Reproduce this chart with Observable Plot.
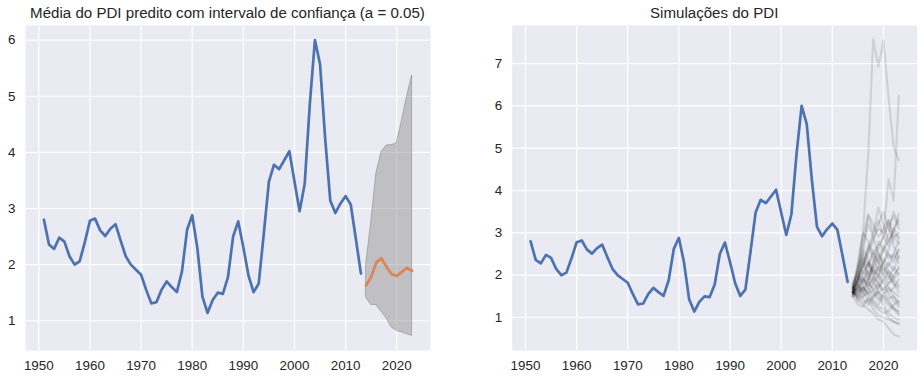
<!DOCTYPE html>
<html>
<head>
<meta charset="utf-8">
<script src="https://cdn.jsdelivr.net/npm/d3@7"></script>
<script src="https://cdn.jsdelivr.net/npm/@observablehq/plot@0.6"></script>
<style>
  body { margin: 0; background: #ffffff; font-family: "Liberation Sans", Arial, sans-serif; }
  .panel { position: absolute; top: 0; }
  .title { height: 25px; line-height: 25px; font-size: 15.1px; color: #262626; text-align: center; white-space: nowrap; }
  svg { display: block; }
</style>
</head>
<body>
<div id="left" class="panel" style="left:0px;width:460px;"></div>
<div id="right" class="panel" style="left:460px;width:464px;"></div>
<script>
// ---- data ----
const years = d3.range(1951, 2014);
const pdi = [2.80, 2.36, 2.28, 2.48, 2.41, 2.15, 2.00, 2.06, 2.40, 2.78,
             2.82, 2.61, 2.51, 2.64, 2.72, 2.43, 2.15, 2.00, 1.91, 1.82,
             1.55, 1.31, 1.33, 1.55, 1.70, 1.60, 1.51, 1.88, 2.62, 2.88,
             2.30, 1.43, 1.14, 1.37, 1.50, 1.48, 1.78, 2.50, 2.77, 2.31,
             1.81, 1.51, 1.66, 2.55, 3.48, 3.78, 3.70, 3.86, 4.02, 3.48,
             2.95, 3.44, 4.86, 6.00, 5.57, 4.25, 3.14, 2.92, 3.09, 3.22,
             3.07, 2.46, 1.84];
const fyears = d3.range(2014, 2024);
const forecast = [1.63, 1.78, 2.04, 2.11, 1.96, 1.83, 1.80, 1.87, 1.94, 1.89];
const upper = [1.99, 2.75, 3.62, 4.00, 4.12, 4.13, 4.16, 4.56, 4.99, 5.37];
const lower = [1.41, 1.28, 1.28, 1.16, 1.04, 0.88, 0.82, 0.79, 0.76, 0.73];
const sims = [
  [1.60, 2.10, 3.00, 4.80, 7.57, 6.92, 7.55, 6.20, 5.02, 4.72],
  [1.70, 1.90, 2.30, 2.60, 2.90, 3.10, 3.00, 4.27, 3.76, 6.24],
  [1.55, 1.90, 2.50, 3.45, 3.20, 2.90, 3.10, 3.30, 3.00, 3.45],
  [1.70, 2.20, 2.90, 3.40, 3.00, 3.60, 3.20, 2.80, 3.10, 3.30],
  [1.60, 1.40, 1.30, 1.20, 1.10, 0.95, 0.90, 0.75, 0.60, 0.55],
  [1.65, 1.50, 1.35, 1.40, 1.20, 1.05, 1.00, 0.95, 0.90, 0.85],
  [1.80, 2.10, 2.40, 2.20, 2.50, 2.30, 2.60, 2.80, 3.00, 2.85],
  [1.50, 1.60, 1.90, 1.70, 1.50, 1.60, 1.40, 1.30, 1.20, 1.15],
  [1.60, 2.00, 2.20, 2.70, 2.40, 2.10, 2.30, 2.50, 2.40, 2.60],
  [1.75, 1.60, 1.80, 2.00, 1.80, 1.70, 1.90, 2.10, 1.95, 2.20],
  [1.55, 1.70, 1.50, 1.60, 1.40, 1.30, 1.50, 1.35, 1.20, 1.05],
  [1.60, 1.90, 2.30, 2.00, 2.20, 2.50, 2.30, 2.60, 2.90, 2.75],
  [1.70, 1.80, 1.60, 1.90, 2.10, 1.90, 2.20, 2.00, 1.80, 1.70],
  [1.65, 2.30, 3.00, 2.80, 2.50, 2.70, 2.90, 3.30, 2.70, 2.40],
  [1.50, 1.30, 1.25, 1.45, 1.30, 1.20, 1.10, 1.15, 1.30, 1.40],
  [1.60, 1.70, 2.00, 2.30, 2.10, 2.00, 1.80, 1.60, 1.70, 1.90],
  [1.70, 1.50, 1.70, 1.60, 1.80, 2.00, 2.40, 2.20, 2.50, 2.30],
  [1.55, 1.80, 2.10, 1.90, 1.60, 1.40, 1.55, 1.70, 1.50, 1.30],
  [1.65, 2.00, 1.80, 2.20, 2.60, 2.30, 2.10, 1.90, 2.20, 2.00],
  [1.60, 1.45, 1.60, 1.80, 1.70, 1.50, 1.30, 1.10, 1.00, 0.95],
  [1.75, 2.20, 2.50, 2.30, 2.00, 2.20, 2.60, 3.00, 3.50, 3.20],
  [1.60, 1.70, 1.90, 1.80, 2.30, 2.80, 2.60, 2.40, 2.50, 2.80],
  [1.50, 1.75, 1.60, 1.40, 1.50, 1.70, 1.90, 1.70, 1.60, 1.50],
  [1.70, 1.90, 2.20, 2.50, 2.80, 3.20, 3.50, 3.10, 2.90, 3.00],
  [1.60, 1.55, 1.45, 1.30, 1.45, 1.60, 1.50, 1.40, 1.25, 1.10],
  [1.65, 1.85, 2.05, 2.30, 2.00, 1.80, 2.05, 2.30, 2.10, 2.45],
  [1.55, 1.60, 1.70, 1.50, 1.35, 1.25, 1.20, 1.00, 0.90, 0.85],
  [1.70, 2.10, 2.70, 3.20, 2.90, 2.50, 2.20, 2.00, 1.80, 1.60],
  [1.60, 1.80, 1.95, 1.75, 1.90, 2.20, 2.00, 1.80, 2.00, 2.15],
  [1.65, 1.40, 1.50, 1.70, 1.95, 1.80, 1.65, 1.80, 1.90, 1.75],
  [1.80, 2.00, 2.60, 2.40, 2.10, 2.40, 2.70, 2.50, 2.30, 2.60],
  [1.55, 1.70, 1.90, 2.10, 1.90, 1.60, 1.70, 1.55, 1.40, 1.25],
  [1.60, 1.90, 2.40, 2.00, 2.30, 2.60, 2.90, 2.70, 3.10, 2.90],
  [1.70, 1.60, 1.75, 1.55, 1.65, 1.80, 1.60, 1.45, 1.50, 1.35],
  [1.50, 1.85, 2.20, 2.60, 3.00, 3.30, 2.90, 3.20, 3.40, 3.10],
  [1.60, 1.50, 1.70, 1.90, 2.20, 2.00, 2.30, 2.10, 1.90, 2.05]
];
const xTicks = [1950, 1960, 1970, 1980, 1990, 2000, 2010, 2020];
const yTicksLeft = [1, 2, 3, 4, 5, 6];
const yTicksRight = [1, 2, 3, 4, 5, 6, 7];

// ---- tables ----
const hist = years.map((y, i) => ({year: y, value: pdi[i]}));
const fc = fyears.map((y, i) => ({year: y, mean: forecast[i], lo: lower[i], hi: upper[i]}));
const simRows = sims.flatMap((s, k) => s.map((v, i) => ({sim: k, year: fyears[i], value: v})));

const BG = "#EAEAF2", TXT = "#262626";
const xDomain = [1947.4, 2026.6];

function base(opts) {
  return {
    width: opts.width,
    height: 354,
    marginTop: 0,
    marginBottom: 29,
    marginLeft: opts.ml,
    marginRight: opts.mr,
    x: {domain: xDomain, label: null},
    y: {domain: opts.yDomain, label: null},
    style: {background: "transparent", fontSize: "13.4px", fontFamily: "'Liberation Sans', Arial, sans-serif", color: TXT}
  };
}

function common(yTicks) {
  return [
    Plot.frame({fill: BG, stroke: null}),
    Plot.gridX(xTicks, {stroke: "white", strokeOpacity: 1, strokeWidth: 1.2}),
    Plot.gridY(yTicks, {stroke: "white", strokeOpacity: 1, strokeWidth: 1.2}),
    Plot.axisX(xTicks, {tickSize: 0, tickPadding: 10, tickFormat: d => String(d), fill: TXT, label: null}),
    Plot.axisY(yTicks, {tickSize: 0, tickPadding: 10, tickFormat: d => String(d), fill: TXT, label: null})
  ];
}

// ---- left panel ----
const left = Plot.plot({
  ...base({width: 460, ml: 25, mr: 30, yDomain: [0.47, 6.26]}),
  marks: [
    ...common(yTicksLeft),
    Plot.areaY(fc, {x: "year", y1: "lo", y2: "hi", fill: "#808080", fillOpacity: 0.4, stroke: "#808080", strokeOpacity: 0.5, strokeWidth: 1}),
    Plot.line(hist, {x: "year", y: "value", stroke: "#4C72B0", strokeWidth: 2.7}),
    Plot.line(fc, {x: "year", y: "mean", stroke: "#DD8452", strokeWidth: 2.7})
  ]
});

// ---- right panel ----
const right = Plot.plot({
  ...base({width: 464, ml: 51.7, mr: 7.3, yDomain: [0.22, 7.9]}),
  marks: [
    ...common(yTicksRight),
    Plot.line(hist, {x: "year", y: "value", stroke: "#4C72B0", strokeWidth: 2.7}),
    Plot.line(simRows, {x: "year", y: "value", z: "sim", stroke: "black", strokeOpacity: 0.11, strokeWidth: 2.2})
  ]
});

function mount(id, title, chart) {
  const el = document.getElementById(id);
  const t = document.createElement("div");
  t.className = "title";
  t.textContent = title;
  el.appendChild(t);
  el.appendChild(chart);
  return t;
}
const t1 = mount("left", "Média do PDI predito com intervalo de confiança (a = 0.05)", left);
t1.style.width = "455px";
const t2 = mount("right", "Simulações do PDI", right);
t2.style.marginLeft = "51.7px";
t2.style.width = "405px";
</script>
</body>
</html>
